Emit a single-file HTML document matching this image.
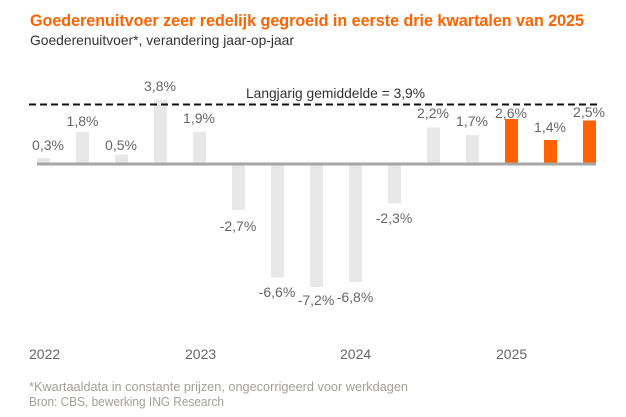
<!DOCTYPE html>
<html><head><meta charset="utf-8"><style>
html,body{margin:0;padding:0;background:#fff;}
svg{display:block;font-family:"Liberation Sans",sans-serif;}
</style></head><body>
<svg width="626" height="417" viewBox="0 0 626 417" xmlns="http://www.w3.org/2000/svg">
<text x="30" y="26" font-size="17" font-weight="bold" fill="#FF6200" textLength="554" lengthAdjust="spacingAndGlyphs">Goederenuitvoer zeer redelijk gegroeid in eerste drie kwartalen van 2025</text>
<text x="30" y="45" font-size="14" fill="#333" textLength="264" lengthAdjust="spacingAndGlyphs">Goederenuitvoer*, verandering jaar-op-jaar</text>

<g fill="#e8e8e8">
<rect x="37" y="158" width="13" height="5"/>
<rect x="76" y="132" width="13" height="31"/>
<rect x="115" y="154.5" width="13" height="8.5"/>
<rect x="154" y="99.5" width="13" height="63.5"/>
<rect x="193" y="131.7" width="13" height="31.3"/>
<rect x="232" y="165" width="13" height="45"/>
<rect x="271" y="165" width="13" height="112.5"/>
<rect x="310" y="165" width="13" height="122"/>
<rect x="349" y="165" width="13" height="117"/>
<rect x="388" y="165" width="13" height="38.5"/>
<rect x="427" y="127.5" width="13" height="35.5"/>
<rect x="466" y="135" width="13" height="28"/>
</g>
<g fill="#FF6200">
<rect x="505" y="119" width="13" height="44"/>
<rect x="544" y="140" width="13" height="23"/>
<rect x="583" y="120.5" width="13" height="42.5"/>
</g>
<rect x="37" y="162.5" width="559" height="3" fill="#a6a6a6"/>
<line x1="29" y1="104.5" x2="600" y2="104.5" stroke="#111" stroke-width="2" stroke-dasharray="7,4"/>
<text x="246" y="98" font-size="14" fill="#333" textLength="179" lengthAdjust="spacingAndGlyphs">Langjarig gemiddelde = 3,9%</text>

<g font-size="14" fill="#666" text-anchor="middle">
<text x="48" y="150">0,3%</text>
<text x="82.5" y="126">1,8%</text>
<text x="121" y="150">0,5%</text>
<text x="160" y="91">3,8%</text>
<text x="199" y="123">1,9%</text>
<text x="238" y="231">-2,7%</text>
<text x="277" y="297">-6,6%</text>
<text x="316" y="305">-7,2%</text>
<text x="355" y="302">-6,8%</text>
<text x="394" y="223">-2,3%</text>
<text x="433" y="118">2,2%</text>
<text x="472" y="126">1,7%</text>
<text x="511" y="118">2,6%</text>
<text x="550" y="132">1,4%</text>
<text x="589" y="117">2,5%</text>
</g>

<g font-size="14" fill="#666">
<text x="29" y="359">2022</text>
<text x="185" y="359">2023</text>
<text x="340" y="359">2024</text>
<text x="496" y="359">2025</text>
</g>
<text x="29" y="391" font-size="13" fill="#a39e9a" textLength="379" lengthAdjust="spacingAndGlyphs">*Kwartaaldata in constante prijzen, ongecorrigeerd voor werkdagen</text>
<text x="29" y="406" font-size="13" fill="#a39e9a" textLength="195" lengthAdjust="spacingAndGlyphs">Bron: CBS, bewerking ING Research</text>
</svg>
</body></html>
